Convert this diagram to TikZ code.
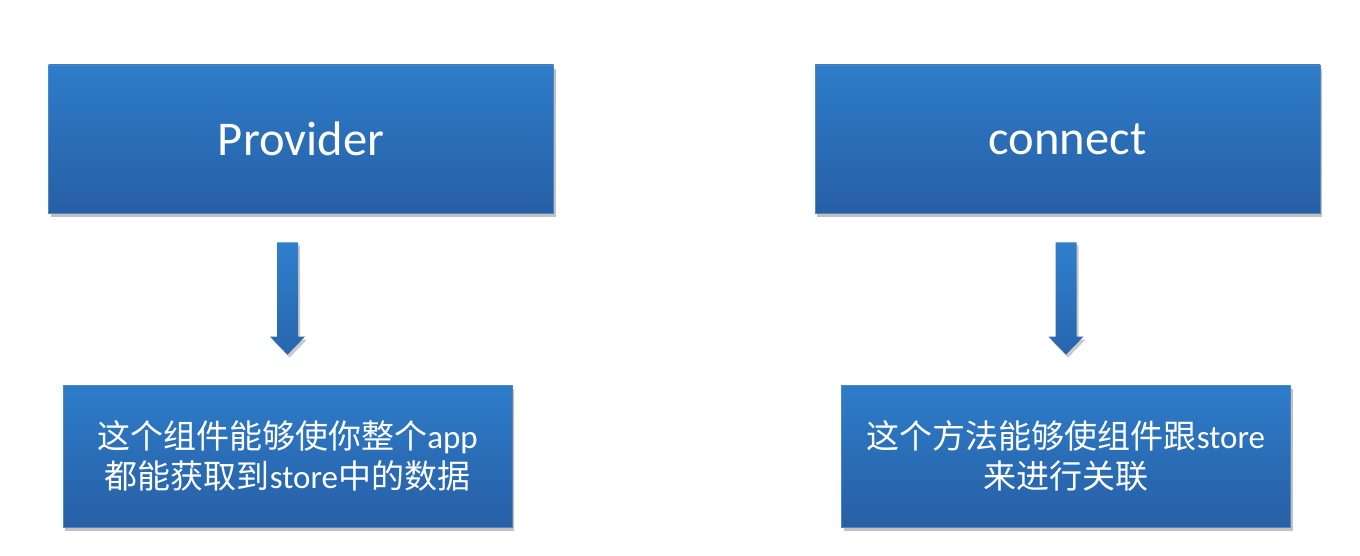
\documentclass[tikz,border=0pt]{standalone}
\usepackage{fontspec}
\setmainfont{Carlito}
\newfontfamily\cjk{Noto Sans CJK SC}
\usetikzlibrary{shadows,calc}
\definecolor{boxtop}{HTML}{2E7CC9}
\definecolor{boxbot}{HTML}{275FA6}
\definecolor{boxline}{HTML}{4F86C6}
\definecolor{arrtop}{HTML}{2F7FCD}
\definecolor{arrbot}{HTML}{2866AE}
\tikzset{
  bluebox/.style={rectangle, draw=boxline, line width=0.8pt,
    top color=boxtop, bottom color=boxbot, text=white, align=center,
    inner sep=0pt,
    drop shadow={shadow xshift=2pt, shadow yshift=-4pt, opacity=0.35, fill=black!70}},
  titlebox/.style={bluebox, minimum width=505pt, minimum height=148pt,
    font=\fontsize{48.5}{58}\selectfont},
  descbox/.style={bluebox, minimum width=449pt, minimum height=142pt,
    font=\fontsize{33}{40}\selectfont},
  downarrow/.style={top color=arrtop, bottom color=arrbot,
    drop shadow={shadow xshift=2pt, shadow yshift=-3pt, opacity=0.3, fill=black!70}}
}
\begin{document}
\begin{tikzpicture}[x=1pt,y=-1pt]
\useasboundingbox (0,0) rectangle (1360,556);
\node[titlebox] (prov) at (301,139) {Provider};
\node[titlebox] (conn) at (1067.5,139) {connect};
\node[descbox] (provd) at (287.5,456) {{\cjk 这个组件能够使你整个}app\\{\cjk 都能获取到}store{\cjk 中的数据}};
\node[descbox] (connd) at (1066,456) {{\cjk 这个方法能够使组件跟}store\\{\cjk 来进行关联}};
\coordinate (s1) at ($(provd.north|-prov.south)+(0,29)$);
\coordinate (e1) at ($(provd.north)+(0,-30)$);
\coordinate (s2) at ($(connd.north|-conn.south)+(0,29)$);
\coordinate (e2) at ($(connd.north)+(0,-30)$);
\foreach \s/\e in {s1/e1,s2/e2}{
  \path[downarrow] ($(\s)+(-10.5,0)$) -- ($(\s)+(10.5,0)$) -- ($(\e)+(10.5,-18)$)
    -- ($(\e)+(17.5,-18)$) -- (\e) -- ($(\e)+(-17.5,-18)$) -- ($(\e)+(-10.5,-18)$) -- cycle;
}
\end{tikzpicture}
\end{document}
